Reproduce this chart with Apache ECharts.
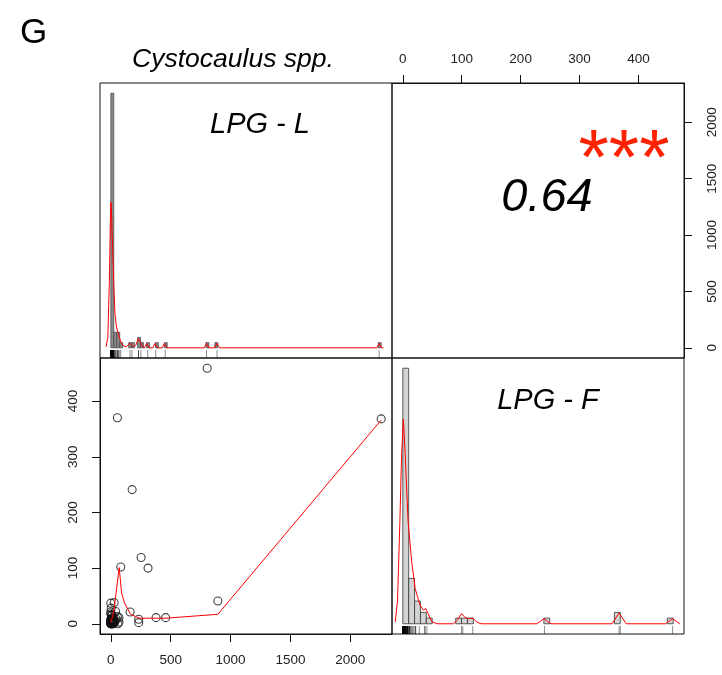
<!DOCTYPE html>
<html><head><meta charset="utf-8">
<script src="https://cdn.jsdelivr.net/npm/echarts@6/dist/echarts.min.js"></script>
<style>html,body{margin:0;padding:0;background:#fff}#c{width:722px;height:675px}</style>
</head><body><div id="c"></div>
<script>
// ---- data ----
// paired observations: LPG-L (x) and LPG-F (y)
const lpgL = [805, 55, 2258, 178, 253, 311, 83, 894, 161, 233, 233, 378, 458,
  0, 28, 3, 40, 0, 0, 55, 68, 10, 20, 5,
  0, 1, 2, 0, 3, 5, 8, 10, 12, 15, 0, 2, 6, 4, 18, 20, 22, 1, 9, 14, 0, 3, 7, 11, 16, 24, 0, 5, 13, 19, 2, 6, 35, 45, 30, 68, 60, 0, 4, 9, 17, 21, 1];
const lpgF = [459, 370, 368, 241, 119, 100, 102, 41, 21, 8, 2, 11, 11,
  37, 38, 28, 22, 21, 18, 13, 11, 15, 12, 16,
  0, 0, 1, 2, 3, 1, 0, 2, 4, 1, 5, 7, 6, 9, 3, 0, 5, 8, 9, 7, 1, 0, 3, 0, 6, 2, 3, 4, 2, 8, 2, 0, 5, 8, 2, 3, 0, 6, 1, 5, 0, 9, 4];

// histogram of LPG-L (bin width 25)
const histLBinWidth = 25;
const histLStarts = [0, 25, 50, 75, 150, 175, 225, 250, 300, 375, 450, 800, 875, 2250];
const histLCounts = [49, 3, 3, 1, 1, 1, 2, 1, 1, 1, 1, 1, 1, 1];
// histogram of LPG-F (bin width 10)
const histFBinWidth = 10;
const histFStarts = [0, 10, 20, 30, 40, 90, 100, 110, 240, 360, 450];
const histFCounts = [45, 8, 4, 2, 1, 1, 1, 1, 1, 2, 1];

// density curves (in count units)
const densLx = [-40, -25, -12, -4, 0, 5, 10, 16, 25, 35, 48, 63, 78, 92, 110, 130, 145, 160, 172, 180, 195, 212, 232, 250, 265, 282, 302, 322, 352, 372, 392, 432, 452, 472, 785, 805, 825, 874, 894, 914, 2238, 2258, 2278, 2295];
const densLy = [0.2, 2, 13, 24, 28, 27, 23, 19, 12, 6.5, 4, 2.7, 1.6, 0.8, 0.3, 0.2, 0.4, 0.9, 0.5, 0.6, 0.2, 0.6, 1.8, 1.1, 0.3, 0, 0.85, 0, 0, 0.85, 0, 0, 0.85, 0, 0, 0.85, 0, 0, 0.85, 0, 0, 0.85, 0, 0];
const densFx = [-13, -9, -5, -2, 1, 4, 9, 15, 21, 29, 35, 39, 43, 49, 58, 86, 93, 100, 106, 112, 119, 126, 133, 228, 240, 252, 356, 368, 380, 447, 459, 471];
const densFy = [0.3, 4, 18, 30, 36, 30, 18, 11, 6.2, 3.3, 2.4, 2.7, 1.8, 0.4, 0, 0, 0.7, 1.8, 1.1, 0.9, 1.0, 0.3, 0, 0, 0.9, 0, 0, 1.9, 0, 0, 0.9, 0];

// smoother in the scatter panel
const lowL = [0, 25, 70, 90, 115, 165, 240, 460, 894, 2258];
const lowF = [2, 22, 101, 55, 37, 17, 10, 10, 17, 366];

// tick labels
const topTicks = [0, 100, 200, 300, 400];
const rightTicks = [0, 500, 1000, 1500, 2000];
const leftTicks = [0, 100, 200, 300, 400];
const bottomTicks = [0, 500, 1000, 1500, 2000];

const corrText = '0.64';
const starsText = '***';
const titleText = 'Cystocaulus spp.';
const panelLetter = 'G';
const labelL = 'LPG - L';
const labelF = 'LPG - F';

// ---- chart ----
const FONT = '"Liberation Sans", Arial, sans-serif';
const chart = echarts.init(document.getElementById('c'), null, {renderer: 'canvas'});

const gridBase = {show: true, borderColor: '#111', borderWidth: 1, backgroundColor: 'transparent', outerBoundsMode: 'none', containLabel: false};
const grids = [
  Object.assign({left: 100, top: 83, width: 292, height: 275}, gridBase),
  Object.assign({left: 392, top: 83, width: 292, height: 275}, gridBase),
  Object.assign({left: 100, top: 358, width: 292, height: 276}, gridBase),
  Object.assign({left: 392, top: 358, width: 292, height: 276}, gridBase)
];

const hidden = (gi, min, max) => ({gridIndex: gi, type: 'value', min, max, show: false, splitLine: {show: false}});
const shownAxis = (gi, min, max, position, ticks, margin, rotate) => ({
  gridIndex: gi, type: 'value', min, max, position,
  splitLine: {show: false},
  axisLine: {show: true, onZero: false, lineStyle: {color: '#111', width: 1}},
  axisTick: {show: true, inside: false, length: 8, customValues: ticks, lineStyle: {color: '#111', width: 1}},
  axisLabel: {show: true, customValues: ticks, margin, rotate: rotate || 0, fontSize: 13.5, color: '#222', fontFamily: FONT,
    formatter: v => String(v)}
});

function histRender(binW, fill, stroke, lw) {
  return function (params, api) {
    const s = api.value(0), c = api.value(1);
    const p0 = api.coord([s, 0]);
    const p1 = api.coord([s + binW, c]);
    return {type: 'rect', shape: {x: p0[0], y: p1[1], width: p1[0] - p0[0], height: p0[1] - p1[1]},
      style: {fill, stroke, lineWidth: lw}};
  };
}
function rugRender(params, api) {
  const x = api.coord([api.value(0), 0])[0];
  const cs = params.coordSys;
  const yb = cs.y + cs.height;
  return {type: 'line', shape: {x1: x, y1: yb, x2: x, y2: yb - 8},
    style: {stroke: 'rgba(0,0,0,0.45)', lineWidth: 1}};
}

const option = {
  animation: false,
  backgroundColor: '#fff',
  grid: grids,
  xAxis: [
    hidden(0, -91, 2366),
    shownAxis(1, -18.4, 477.4, 'top', topTicks, 17),
    shownAxis(2, -90.3, 2348.3, 'bottom', bottomTicks, 19),
    hidden(3, -18.4, 478.4)
  ],
  yAxis: [
    hidden(0, -1.96, 50.96),
    shownAxis(1, -90.3, 2348.3, 'right', rightTicks, 21, 90),
    shownAxis(2, -18.4, 477.4, 'left', leftTicks, 20, 90),
    hidden(3, -1.8, 46.8)
  ],
  series: [
    {type: 'custom', xAxisIndex: 0, yAxisIndex: 0, renderItem: histRender(histLBinWidth, '#8a8a8a', '#444', 0.7),
      data: histLStarts.map((s, i) => [s, histLCounts[i]]), silent: true, z: 2},
    {type: 'line', xAxisIndex: 0, yAxisIndex: 0, data: densLx.map((x, i) => [x, densLy[i]]),
      showSymbol: false, symbol: 'none', lineStyle: {color: '#ff0000', width: 1}, z: 3, silent: true},
    {type: 'custom', xAxisIndex: 0, yAxisIndex: 0, renderItem: rugRender, data: lpgL.map(v => [v, 0]), z: 4, silent: true},

    {type: 'custom', xAxisIndex: 3, yAxisIndex: 3, renderItem: histRender(histFBinWidth, '#d3d3d3', '#333', 0.8),
      data: histFStarts.map((s, i) => [s, histFCounts[i]]), silent: true, z: 2},
    {type: 'line', xAxisIndex: 3, yAxisIndex: 3, data: densFx.map((x, i) => [x, densFy[i]]),
      showSymbol: false, symbol: 'none', lineStyle: {color: '#ff0000', width: 1}, z: 3, silent: true},
    {type: 'custom', xAxisIndex: 3, yAxisIndex: 3, renderItem: rugRender, data: lpgF.map(v => [v, 0]), z: 4, silent: true},

    {type: 'scatter', xAxisIndex: 2, yAxisIndex: 2, data: lpgL.map((v, i) => [v, lpgF[i]]),
      symbol: 'circle', symbolSize: 8,
      itemStyle: {color: 'rgba(0,0,0,0)', borderColor: '#111', borderWidth: 1.1}, z: 3, silent: true},
    {type: 'line', xAxisIndex: 2, yAxisIndex: 2, data: lowL.map((x, i) => [x, lowF[i]]),
      showSymbol: false, symbol: 'none', lineStyle: {color: '#ff0000', width: 1}, z: 4, silent: true}
  ],
  graphic: [
    {type: 'text', left: 20, top: 16, style: {text: panelLetter, font: '35px ' + FONT, fill: '#000'}},
    {type: 'text', x: 233, y: 60, style: {text: titleText, font: 'italic 26.5px ' + FONT, fill: '#000', textAlign: 'center', textVerticalAlign: 'middle'}},
    {type: 'text', x: 260, y: 125, style: {text: labelL, font: 'italic 29px ' + FONT, fill: '#000', textAlign: 'center', textVerticalAlign: 'middle'}},
    {type: 'text', x: 548, y: 401, style: {text: labelF, font: 'italic 29px ' + FONT, fill: '#000', textAlign: 'center', textVerticalAlign: 'middle'}},
    {type: 'text', x: 547, y: 198, style: {text: corrText, font: 'italic 47px ' + FONT, fill: '#000', textAlign: 'center', textVerticalAlign: 'middle'}},
    {type: 'text', x: 624, y: 162, style: {text: starsText, font: '78px ' + FONT, fill: '#ff2200', textAlign: 'center', textVerticalAlign: 'middle'}}
  ]
};
chart.setOption(option);
</script>
</body></html>
